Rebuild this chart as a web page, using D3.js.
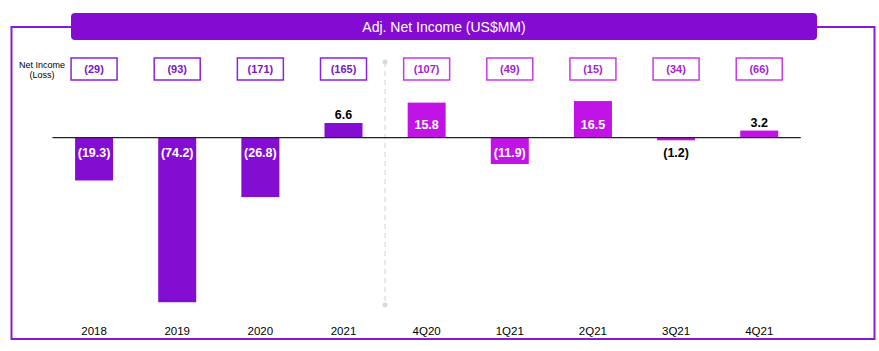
<!DOCTYPE html>
<html>
<head>
<meta charset="utf-8">
<script src="https://cdn.jsdelivr.net/npm/d3@7"></script>
<style>
  body { margin: 0; background: #fff; }
  svg { font-family: "Liberation Sans", Arial, Helvetica, sans-serif; }
</style>
</head>
<body>
<svg id="chart" width="879" height="351"></svg>
<script>
// categories and values (US$MM)
const categories = ["2018", "2019", "2020", "2021", "4Q20", "1Q21", "2Q21", "3Q21", "4Q21"];
const adjNetIncome = [-19.3, -74.2, -26.8, 6.6, 15.8, -11.9, 16.5, -1.2, 3.2];
const netIncomeLabels = ["(29)", "(93)", "(171)", "(165)", "(107)", "(49)", "(15)", "(34)", "(66)"];
const isAnnual = [true, true, true, true, false, false, false, false, false];

const annualColor = "#840dd2",
  quarterColor = "#c213e6",
  frameColor = "#8a18d8";

const svg = d3.select("#chart");

// x scale: one band per period
const x = d3.scaleBand()
  .domain(categories)
  .range([52.5, 800.8])
  .paddingInner(0.543)
  .paddingOuter(0.2715);

// y scale: zero line sits at ~137.7
const y = d3.scaleLinear()
  .domain([-80, 20])
  .range([315.1, 93.3]);

const fmt = v => v < 0 ? "(" + Math.abs(v).toFixed(1) + ")" : v.toFixed(1);

// outer frame, broken by the title bar
svg.append("path")
  .attr("d", "M71,27 H11.5 V339 H874.5 V27 H817")
  .attr("fill", "none")
  .attr("stroke", frameColor)
  .attr("stroke-width", 2);

// title bar
svg.append("rect")
  .attr("x", 71).attr("y", 13)
  .attr("width", 746).attr("height", 27)
  .attr("rx", 4)
  .attr("fill", "#840cd2");

svg.append("text")
  .attr("x", 444).attr("y", 27)
  .attr("dy", "0.35em")
  .attr("text-anchor", "middle")
  .attr("fill", "#fff")
  .style("font-size", "14px")
  .text("Adj. Net Income (US$MM)");

// row caption
svg.append("text")
  .attr("x", 42).attr("y", 65)
  .attr("dy", "0.35em")
  .attr("text-anchor", "middle")
  .style("font-size", "9px")
  .text("Net Income");
svg.append("text")
  .attr("x", 42).attr("y", 75)
  .attr("dy", "0.35em")
  .attr("text-anchor", "middle")
  .style("font-size", "9px")
  .text("(Loss)");

// dashed separator between annual and quarterly
const sepX = (x("2021") + x.bandwidth() + x("4Q20")) / 2;
svg.append("line")
  .attr("x1", sepX).attr("x2", sepX)
  .attr("y1", 62).attr("y2", 305)
  .attr("stroke", "#d9d9d9")
  .attr("stroke-width", 1.2)
  .attr("stroke-dasharray", "5,4");
svg.selectAll(".sepdot")
  .data([62, 305])
  .join("circle")
  .attr("class", "sepdot")
  .attr("cx", sepX).attr("cy", d => d)
  .attr("r", 2.5)
  .attr("fill", "#d9d9d9");

// net income boxes
const boxes = svg.selectAll(".nibox")
  .data(categories)
  .join("g")
  .attr("class", "nibox")
  .attr("transform", d => `translate(${x(d) + x.bandwidth() / 2},69)`);

boxes.append("rect")
  .attr("x", -23).attr("y", -11)
  .attr("width", 46).attr("height", 22)
  .attr("fill", "#fff")
  .attr("stroke", (d, i) => isAnnual[i] ? "#8c22d9" : "#c83ae8")
  .attr("stroke-width", 1.5);

boxes.append("text")
  .attr("text-anchor", "middle")
  .attr("dy", "0.35em")
  .attr("fill", (d, i) => isAnnual[i] ? "#7a16c6" : "#a61fd2")
  .style("font-size", "11px")
  .style("font-weight", "bold")
  .text((d, i) => netIncomeLabels[i]);

// bars
svg.selectAll(".bar")
  .data(categories)
  .join("rect")
  .attr("class", "bar")
  .attr("x", d => x(d))
  .attr("width", x.bandwidth())
  .attr("y", (d, i) => y(Math.max(0, adjNetIncome[i])))
  .attr("height", (d, i) => Math.abs(y(adjNetIncome[i]) - y(0)))
  .attr("fill", (d, i) => isAnnual[i] ? annualColor : quarterColor);

// zero line
svg.append("line")
  .attr("x1", x.range()[0]).attr("x2", x.range()[1])
  .attr("y1", y(0)).attr("y2", y(0))
  .attr("stroke", "#222")
  .attr("stroke-width", 1.2);

// value labels: inside the bar when it is tall enough, otherwise outside
svg.selectAll(".val")
  .data(categories)
  .join("text")
  .attr("class", "val")
  .attr("x", d => x(d) + x.bandwidth() / 2)
  .attr("y", (d, i) => {
    const v = adjNetIncome[i], h = Math.abs(y(v) - y(0));
    if (v >= 0) return h >= 20 ? y(0) - 13 : y(v) - 8;
    return h >= 20 ? Math.min(y(0) + 15, y(v) - 6) : y(v) + 12;
  })
  .attr("dy", "0.35em")
  .attr("text-anchor", "middle")
  .attr("fill", (d, i) => Math.abs(y(adjNetIncome[i]) - y(0)) >= 20 ? "#fff" : "#000")
  .style("font-size", "12.5px")
  .style("font-weight", "bold")
  .text((d, i) => fmt(adjNetIncome[i]));

// category labels
svg.selectAll(".cat")
  .data(categories)
  .join("text")
  .attr("class", "cat")
  .attr("x", d => x(d) + x.bandwidth() / 2)
  .attr("y", 331)
  .attr("dy", "0.35em")
  .attr("text-anchor", "middle")
  .style("font-size", "11.5px")
  .text(d => d);
</script>
</body>
</html>
